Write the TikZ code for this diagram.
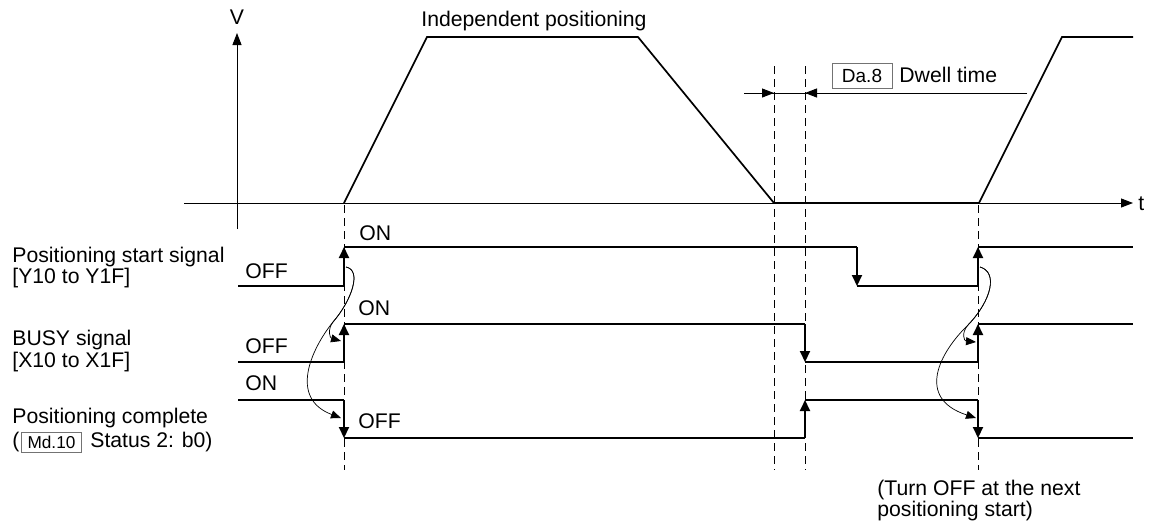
\documentclass[tikz,border=0pt]{standalone}
\usepackage{fontspec}
\setmainfont{Liberation Sans}
\usetikzlibrary{arrows.meta}
\begin{document}
\begin{tikzpicture}[x=0.5pt,y=-0.5pt,
  txt/.style={font=\fontsize{10.6}{12}\selectfont,inner sep=0pt,anchor=base west},
  sig/.style={line width=1pt},
  sigedge/.style={line width=1pt,-{Triangle[width=5pt,length=5.5pt]}},
  axis/.style={line width=0.5pt},
  axarrow/.style={line width=0.5pt,-{Triangle[width=4.5pt,length=6pt]}},
  speed/.style={line width=0.85pt,line join=miter},
  guide/.style={line width=0.5pt,dash pattern=on 4pt off 2.5pt},
  cause/.style={line width=0.35pt,-{Triangle[width=4pt,length=5pt]}},
  refbox/.style={draw=black!55,line width=0.5pt,inner sep=0pt,minimum width=30pt},
]
\useasboundingbox (0,0) rectangle (1152,526);

% axes
\coordinate (vb) at (237,229); \coordinate (vt) at (237,33);
\coordinate (tl) at (184,203); \coordinate (tr) at (1133,203);
\draw[axarrow] (vb) -- (vt);
\draw[axarrow] (tl) -- (tr);
\node[font=\fontsize{10.6}{12}\selectfont,inner sep=0pt] (V) at (237,17) {V};
\node[font=\fontsize{10.6}{12}\selectfont,inner sep=0pt,anchor=west] (t) at (1138,204) {t};

% speed profile
\coordinate (s0) at (344,203); \coordinate (s1) at (427,37);
\coordinate (s2) at (638,37); \coordinate (s3) at (774,203);
\coordinate (s4) at (979,203); \coordinate (s5) at (1062,37);
\coordinate (s6) at (1133,37);
\draw[speed] (s0) -- (s1) -- (s2) -- (s3);
\draw[line width=1pt] (s3) -- (s4);
\draw[speed] (s4) -- (s5) -- (s6);
\node[txt] (indep) at (421,26) {Independent positioning};

% dashed guides
\draw[guide] (344,205) -- (344,470);
\draw[guide] (774,66) -- (774,470);
\draw[guide] (805,66) -- (805,470);
\draw[guide] (978,205) -- (978,470);

% dwell time
\coordinate (dl) at (744,93); \coordinate (da) at (774,93);
\coordinate (db) at (805,93); \coordinate (dr) at (1027,93);
\draw[axis] (dl) -- (dr);
\draw[axarrow] (dl) -- (da);
\draw[axarrow] (dr) -- (db);
\node[refbox,minimum height=12.5pt,font=\fontsize{9.5}{11}\selectfont] (da8) at (862,75.5) {Da.8};
\node[txt] (dwell) at (899,82) {Dwell time};

% left labels
\node[txt] (l1) at (12,262) {Positioning start signal};
\node[txt] (l2) at (12,283) {[Y10 to Y1F]};
\node[txt] (l3) at (12,345) {BUSY signal};
\node[txt] (l4) at (12,367) {[X10 to X1F]};
\node[txt] (l5) at (12,423) {Positioning complete};
\node[txt] (l6a) at (12,447) {(};
\node[refbox,minimum height=10pt,font=\fontsize{8.6}{10}\selectfont] (md10) at (51.5,442) {Md.10};
\node[txt] (l6b) at (90,447) {Status 2: b0)};

% Positioning start signal
\coordinate (a0) at (238,286); \coordinate (a1) at (344,286); \coordinate (a2) at (344,247);
\coordinate (a3) at (857,247); \coordinate (a4) at (857,286); \coordinate (a5) at (978,286);
\coordinate (a6) at (978,247); \coordinate (a7) at (1133,247);
\draw[sig] (a0) -- (a1);
\draw[sigedge] (a1) -- (a2);
\draw[sig] (a2) -- (a3);
\draw[sigedge] (a3) -- (a4);
\draw[sig] (a4) -- (a5);
\draw[sigedge] (a5) -- (a6);
\draw[sig] (a6) -- (a7);

% BUSY signal
\coordinate (b0) at (238,362); \coordinate (b1) at (344,362); \coordinate (b2) at (344,324);
\coordinate (b3) at (805,324); \coordinate (b4) at (805,362); \coordinate (b5) at (978,362);
\coordinate (b6) at (978,324); \coordinate (b7) at (1133,324);
\draw[sig] (b0) -- (b1);
\draw[sigedge] (b1) -- (b2);
\draw[sig] (b2) -- (b3);
\draw[sigedge] (b3) -- (b4);
\draw[sig] (b4) -- (b5);
\draw[sigedge] (b5) -- (b6);
\draw[sig] (b6) -- (b7);

% Positioning complete
\coordinate (c0) at (238,400); \coordinate (c1) at (344,400); \coordinate (c2) at (344,438);
\coordinate (c3) at (805,438); \coordinate (c4) at (805,400); \coordinate (c5) at (978,400);
\coordinate (c6) at (978,438); \coordinate (c7) at (1133,438);
\draw[sig] (c0) -- (c1);
\draw[sigedge] (c1) -- (c2);
\draw[sig] (c2) -- (c3);
\draw[sigedge] (c3) -- (c4);
\draw[sig] (c4) -- (c5);
\draw[sigedge] (c5) -- (c6);
\draw[sig] (c6) -- (c7);

% ON/OFF labels
\node[txt] (on1) at (359,240) {ON};
\node[txt] (off1) at (245,278) {OFF};
\node[txt] (on2) at (358,315) {ON};
\node[txt] (off2) at (245,353) {OFF};
\node[txt] (on3) at (245,390) {ON};
\node[txt] (off3) at (358,428) {OFF};

% cause arrows (left)
\coordinate (p0) at (346,267); \coordinate (pm) at (333,322);
\coordinate (p1) at (341,341); \coordinate (p2) at (341,418);
\draw[cause] (p0) .. controls (362,270) and (352,300) .. (pm) .. controls (327,330) and (330,338) .. (p1);
\draw[cause] (p0) .. controls (362,270) and (352,300) .. (pm) .. controls (312,348) and (288,398) .. (p2);

% cause arrows (right)
\coordinate (q0) at (980,267); \coordinate (qm) at (968,325);
\coordinate (q1) at (976,342); \coordinate (q2) at (976,418);
\draw[cause] (q0) .. controls (998,272) and (992,300) .. (qm) .. controls (961,333) and (964,341) .. (q1);
\draw[cause] (q0) .. controls (998,272) and (992,300) .. (qm) .. controls (940,352) and (915,398) .. (q2);

\node[txt] (turn1) at (877,495) {(Turn OFF at the next};
\node[txt] (turn2) at (877,516) {positioning start)};
\end{tikzpicture}
\end{document}
